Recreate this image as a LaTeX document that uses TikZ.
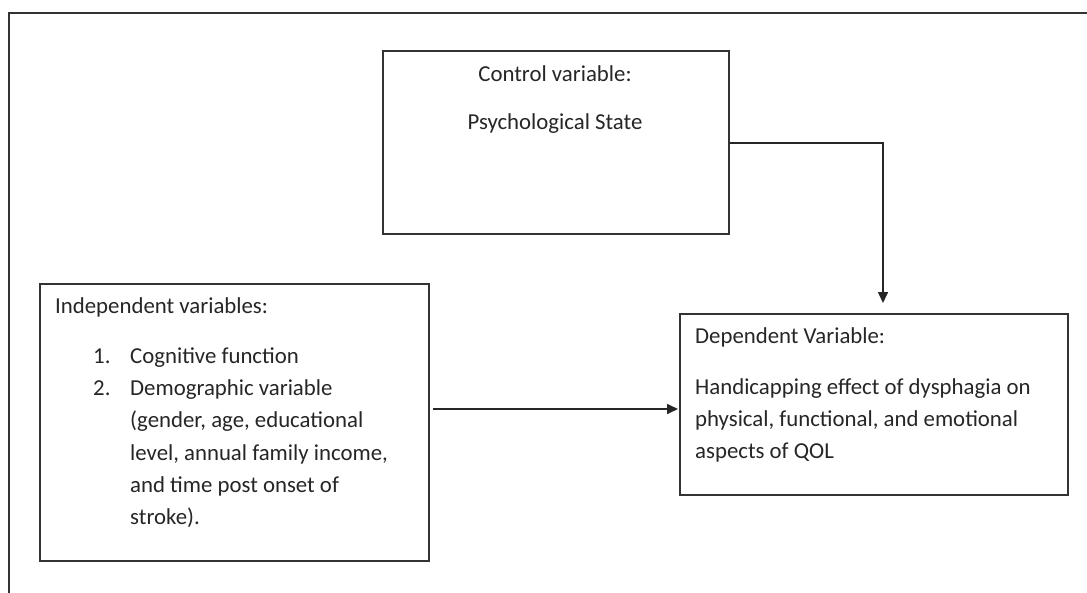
\documentclass[tikz,border=0pt]{standalone}
\usepackage{fontspec}
\setmainfont{Carlito}
\usetikzlibrary{arrows.meta}
\definecolor{linec}{HTML}{333333}
\definecolor{textc}{HTML}{262626}
\begin{document}
\begin{tikzpicture}[x=1pt,y=-1pt,
  frame/.style={draw=linec,line width=2pt},
  box/.style={draw=linec,line width=1.6pt,rectangle,inner sep=0pt,anchor=north west},
  txt/.style={inner sep=0pt,text=textc,font=\fontsize{22.8}{32}\selectfont},
  conn/.style={draw=black!85,line width=1.6pt,-{Triangle[length=11pt,width=10pt]}}]
\useasboundingbox (0,0) rectangle (1087,592);
\fill[white] (0,0) rectangle (1087,592);
\begin{scope}
\clip (0,0) rectangle (1087,592);
\draw[frame] (8.5,12.5) rectangle (1110,620);
\end{scope}
% boxes
\node[box,minimum width=346pt,minimum height=183pt] (ctrl) at (382,50) {};
\node[box,minimum width=389pt,minimum height=277pt] (ind) at (39,283) {};
\node[box,minimum width=388pt,minimum height=181pt] (dep) at (679,313) {};
% control texts
\node[txt,anchor=base] (c1) at (555,81.5) {Control variable:};
\node[txt,anchor=base] (c2) at (555,129.5) {Psychological State};
% independent texts
\node[txt,anchor=base west] (i0) at (55,313.5) {Independent variables:};
\node[txt,anchor=base west] (n1) at (93,363.5) {1.};
\node[txt,anchor=base west] (i1) at (130,363.5) {Cognitive function};
\node[txt,anchor=base west] (n2) at (93,395.5) {2.};
\node[txt,anchor=base west] (i2) at (130,395.5) {Demographic variable};
\node[txt,anchor=base west] (i3) at (130,427.5) {(gender, age, educational};
\node[txt,anchor=base west] (i4) at (130,460) {level, annual family income,};
\node[txt,anchor=base west] (i5) at (130,492) {and time post onset of};
\node[txt,anchor=base west] (i6) at (130,524) {stroke).};
% dependent texts
\node[txt,anchor=base west] (d0) at (695,343.5) {Dependent Variable:};
\node[txt,anchor=base west] (d1) at (695,394.5) {Handicapping effect of dysphagia on};
\node[txt,anchor=base west] (d2) at (695,426.5) {physical, functional, and emotional};
\node[txt,anchor=base west] (d3) at (695,458.5) {aspects of QOL};
% connectors
\coordinate (hy) at (0,409);
\coordinate (ty) at (0,143);
\coordinate (tip) at (883,303);
\draw[conn] ([xshift=3pt]ind.east |- hy) -- ([xshift=-1pt]dep.west |- hy);
\draw[conn] (ctrl.east |- ty) -| (tip);
\end{tikzpicture}
\end{document}
